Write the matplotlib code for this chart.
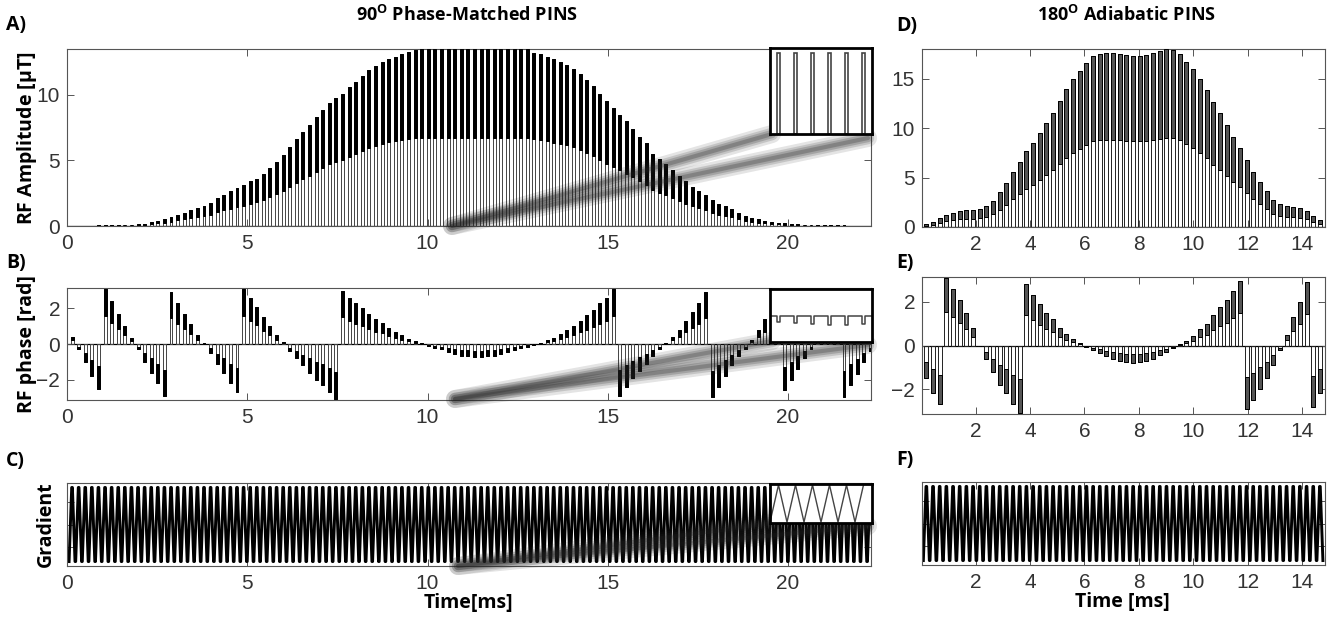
import numpy as np
import matplotlib
matplotlib.use("Agg")
import matplotlib.pyplot as plt
from matplotlib.lines import Line2D

# ---- data ----
# 90 deg phase-matched PINS: sub-pulse amplitudes (uT)
amp_a = ([0.02, 0.02, 0.03, 0.03, 0.04, 0.05, 0.05, 0.06, 0.08, 0.1, 0.12]
         + [0.15, 0.3, 0.4, 0.5, 0.65, 0.85, 1.0, 1.2, 1.35, 1.5, 1.75, 2.1, 2.4, 2.65,
            2.9, 3.1, 3.4, 3.6, 4.0, 4.45, 4.9, 5.4, 6.0, 6.6, 7.15, 7.7, 8.3, 8.85,
            9.4, 9.75, 10.1, 10.6, 11.0, 11.45, 11.9, 12.2, 12.5, 12.75, 12.9, 13.1,
            13.3, 13.45]
         + [13.5] * 17
         + [13.2, 13.1, 12.9, 12.7, 12.5, 12.3, 12.0, 11.6, 11.1, 10.7, 10.1, 9.5, 9.0,
            8.5, 8.0, 7.4, 6.8, 6.3, 5.5, 5.1, 4.7, 4.3, 3.8, 3.4, 3.0, 2.7, 2.4, 2.0,
            1.7, 1.5, 1.3, 1.0, 0.8, 0.6, 0.5, 0.4, 0.3, 0.25, 0.2]
         + [0.15, 0.12, 0.1, 0.08, 0.07, 0.06, 0.05, 0.04, 0.04, 0.03, 0.03, 0.02, 0.02])

# sub-pulse phases (rad)
phase_a = [0.4, -0.3, -1.0, -1.8, -2.5, 3.1, 2.4, 1.7, 1.0, 0.35,
           -0.3, -1.0, -1.6, -2.2, -2.9, 2.9, 2.3, 1.7, 1.1, 0.5,
           0.05, -0.5, -1.1, -1.6, -2.2, -2.7, 3.1, 2.6, 2.1, 1.5,
           1.0, 0.5, 0.1, -0.4, -0.8, -1.2, -1.6, -2.0, -2.3, -2.7,
           -3.1, 3.0, 2.6, 2.3, 2.0, 1.7, 1.4, 1.2, 0.9, 0.7,
           0.5, 0.3, 0.15, 0.05, -0.1, -0.2, -0.3,
           -0.45, -0.55, -0.65, -0.7, -0.75, -0.75, -0.7, -0.65, -0.55, -0.45,
           -0.35, -0.25, -0.15, -0.05, 0.05, 0.2, 0.35, 0.55, 0.8, 1.0,
           1.3, 1.6, 1.9, 2.3, 2.6, 3.1,
           -2.9, -2.4, -1.9, -1.5, -1.1, -0.7, -0.3,
           0.05, 0.4, 0.8, 1.3, 1.8, 2.3, 2.9,
           -3.0, -2.4, -1.8, -1.2, -0.7, -0.3,
           0.2, 0.8, 1.4, 2.0, 2.7,
           -2.6, -2.0, -1.4, -0.8, -0.3,
           0.3, 1.0, 1.8, 2.6,
           -3.0, -2.3, -1.7, -1.0, -0.4]

# 180 deg adiabatic PINS
amp_d = [0.3, 0.5, 0.9, 1.2, 1.4, 1.6, 1.7, 1.7, 1.8, 2.1,
         2.6, 3.5, 4.5, 5.6, 6.6, 7.7, 8.5, 9.5, 10.5, 11.5,
         12.7, 14.0, 15.0, 15.8, 16.6, 17.3, 17.5, 17.6, 17.6, 17.5,
         17.4, 17.3, 17.3, 17.4, 17.6, 17.8, 18.0, 17.9, 17.5, 16.7,
         16.0, 15.0, 13.9, 12.6, 11.5, 10.3, 9.1, 8.0, 6.8, 5.6,
         4.6, 3.6, 2.7, 2.3, 2.1, 2.0, 1.9, 1.6, 1.1, 0.7]

phase_d = [-1.5, -2.2, -2.7, 3.1, 2.6, 2.1, 1.5, 0.8, 0.0, -0.6,
           -1.2, -1.8, -2.2, -2.7, -3.1, 2.8, 2.3, 1.9, 1.5, 1.2,
           0.8, 0.55, 0.3, 0.1, -0.05, -0.2, -0.35, -0.5, -0.6, -0.7,
           -0.75, -0.8, -0.75, -0.7, -0.6, -0.45, -0.3, -0.1, 0.05, 0.2,
           0.45, 0.75, 1.0, 1.4, 1.75, 2.1, 2.5, 2.95, -2.9, -2.5,
           -2.0, -1.5, -0.9, -0.2, 0.5, 1.3, 2.0, 2.9, -2.8, -2.2]

grad_amp = 1.0
dt_a, t0_a = 0.183, 0.14
dt_d, t0_d = 0.2453, 0.19

t_a = t0_a + dt_a * np.arange(len(amp_a))
tp_a = t0_a + dt_a * np.arange(len(phase_a))
t_d = t0_d + dt_d * np.arange(len(amp_d))
tp_d = t0_d + dt_d * np.arange(len(phase_d))

# ---- figure ----
plt.rcParams["font.family"] = ["Liberation Sans", "DejaVu Sans"]
plt.rcParams["mathtext.fontset"] = "custom"
plt.rcParams["mathtext.bf"] = "Open Sans:bold"
plt.rcParams["mathtext.rm"] = "Open Sans"
lab_font = "Open Sans"

W, H = 1336, 618
fig = plt.figure(figsize=(W / 100, H / 100), dpi=100)


def px_axes(l, t, r, b, z=0):
    return fig.add_axes([l / W, 1 - b / H, (r - l) / W, (b - t) / H], zorder=z)


def style(ax, lw=0.8, col="#555555"):
    for s in ax.spines.values():
        s.set_linewidth(lw)
        s.set_color(col)
    ax.tick_params(direction="in", top=True, right=True, length=5, width=0.7,
                   color="#555555", labelsize=15, labelcolor="#333333")
    ax.tick_params(axis="x", pad=6)
    ax.tick_params(axis="y", pad=5)


def pulses(ax, t, v, width, fill, edge="black", lw=0.7):
    v = np.asarray(v)
    ax.axhline(0, color="black", lw=0.9, zorder=1)
    ax.bar(t, v, width=width, fill=False, edgecolor=edge, linewidth=lw, zorder=2)
    ax.bar(t, v / 2, bottom=v / 2, width=width, color=fill, edgecolor="black",
           linewidth=lw, zorder=3)


def gradient(ax, t, dt, g, lw=2.1):
    xs, ys = [], []
    for ti in t:
        xs += [ti - 0.45 * dt, ti - 0.05 * dt, ti + 0.05 * dt, ti + 0.45 * dt]
        ys += [-g, g, g, -g]
    ax.plot(xs, ys, color="black", lw=lw, zorder=2)


# A
axA = px_axes(67, 49, 871, 226)
pulses(axA, t_a, amp_a, 0.45 * dt_a, "black", edge="#444444")
axA.set_xlim(0, 22.3)
axA.set_ylim(0, 13.5)
axA.set_xticks([0, 5, 10, 15, 20])
axA.set_yticks([0, 5, 10])
style(axA)

# B
axB = px_axes(67, 288, 871, 400)
pulses(axB, tp_a, phase_a, 0.45 * dt_a, "black", edge="#444444")
axB.set_xlim(0, 22.3)
axB.set_ylim(-np.pi, np.pi)
axB.set_xticks([0, 5, 10, 15, 20])
axB.set_yticks([-2, 0, 2])
style(axB)

# C
axC = px_axes(67, 483, 871, 566)
gradient(axC, t_a, dt_a, grad_amp)
axC.set_xlim(0, 22.3)
axC.set_ylim(-1.12, 1.12)
axC.set_xticks([0, 5, 10, 15, 20])
axC.set_yticks([-0.6, 0, 0.6])
axC.set_yticklabels([])
style(axC)

# D
axD = px_axes(922, 49, 1325, 227)
pulses(axD, t_d, amp_d, 0.6 * dt_d, "#555555", edge="#222222")
axD.set_xlim(0.03, 14.85)
axD.set_ylim(0, 18)
axD.set_xticks(range(2, 15, 2))
axD.set_yticks([0, 5, 10, 15])
style(axD)

# E
axE = px_axes(922, 277, 1325, 414)
pulses(axE, tp_d, phase_d, 0.6 * dt_d, "#555555", edge="#222222")
axE.set_xlim(0.03, 14.85)
axE.set_ylim(-np.pi, np.pi)
axE.set_xticks(range(2, 15, 2))
axE.set_yticks([-2, 0, 2])
style(axE)

# F
axF = px_axes(922, 482, 1325, 565)
gradient(axF, t_d, dt_d, grad_amp)
axF.set_xlim(0.03, 14.85)
axF.set_ylim(-1.12, 1.12)
axF.set_xticks(range(2, 15, 2))
axF.set_yticks([-0.6, 0, 0.6])
axF.set_yticklabels([])
style(axF)


# zoom shadows (annotation only)
def shadow(x0, y0, x1, y1):
    for lw, a in [(13, 0.12), (9, 0.16), (6, 0.2), (3, 0.25)]:
        fig.add_artist(Line2D([x0 / W, x1 / W], [1 - y0 / H, 1 - y1 / H],
                              transform=fig.transFigure, color="#222222", lw=lw,
                              alpha=a, solid_capstyle="round", zorder=3))


shadow(452, 226, 772, 134)
shadow(452, 226, 868, 138)
shadow(455, 399, 772, 341)
shadow(455, 399, 868, 345)
shadow(458, 566, 772, 523)
shadow(458, 566, 868, 526)

# insets
win = slice(58, 64)
iA = px_axes(770, 48, 872, 134, z=5)
iA.bar(t_a[win], np.asarray(amp_a)[win], width=0.22 * dt_a, fill=False,
       edgecolor="#444444", linewidth=1.2)
iA.set_ylim(0, 14.3)
iB = px_axes(770, 289, 872, 342, z=5)
xs, ys = [], []
for ti, v in zip(tp_a[win], np.asarray(phase_a)[win]):
    xs += [ti - 0.5 * dt_a, ti - 0.11 * dt_a, ti - 0.11 * dt_a, ti + 0.11 * dt_a,
           ti + 0.11 * dt_a, ti + 0.5 * dt_a]
    ys += [0, 0, v, v, 0, 0]
iB.plot(xs, ys, color="#444444", lw=1.1)
iB.set_ylim(-2.2, 2.2)
iC = px_axes(770, 484, 872, 523, z=5)
xs, ys = [], []
for ti in t_a[win]:
    xs += [ti - 0.5 * dt_a, ti]
    ys += [-grad_amp, grad_amp]
iC.plot(xs, ys, color="#444444", lw=1.0)
iC.set_ylim(-1.05, 1.05)
for ax in (iA, iB, iC):
    ax.set_xlim(t_a[58] - 0.5 * dt_a, t_a[63] + 0.5 * dt_a)
    ax.set_xticks([])
    ax.set_yticks([])
    ax.set_facecolor("white")
    for s in ax.spines.values():
        s.set_linewidth(2.0)
        s.set_color("black")


# texts
def ftext(x, y, s, size=14, **kw):
    fig.text(x / W, 1 - y / H, s, fontsize=size, fontfamily=lab_font,
             fontweight="bold", **kw)


ftext(467, 15, r"90$^{\mathbf{O}}$ Phase-Matched PINS", 13, ha="center", va="center")
ftext(1127, 15, r"180$^{\mathbf{O}}$ Adiabatic PINS", 13, ha="center", va="center")
for lab, x, y in [("A)", 6, 25), ("B)", 6, 263), ("C)", 6, 461),
                  ("D)", 896, 26), ("E)", 896, 263), ("F)", 896, 460)]:
    ftext(x, y, lab, 14, ha="left", va="center")
ftext(27, 138, "RF Amplitude [$\\mathbf{\\mu}$T]", 14, ha="center", va="center",
      rotation=90)
ftext(27, 344, "RF phase [rad]", 14, ha="center", va="center", rotation=90)
ftext(46, 524, "Gradient", 14, ha="center", va="center", rotation=90)
ftext(468, 603, "Time[ms]", 14, ha="center", va="center")
ftext(1122, 602, "Time [ms]", 14, ha="center", va="center")

fig.savefig("out.png", dpi=100)
